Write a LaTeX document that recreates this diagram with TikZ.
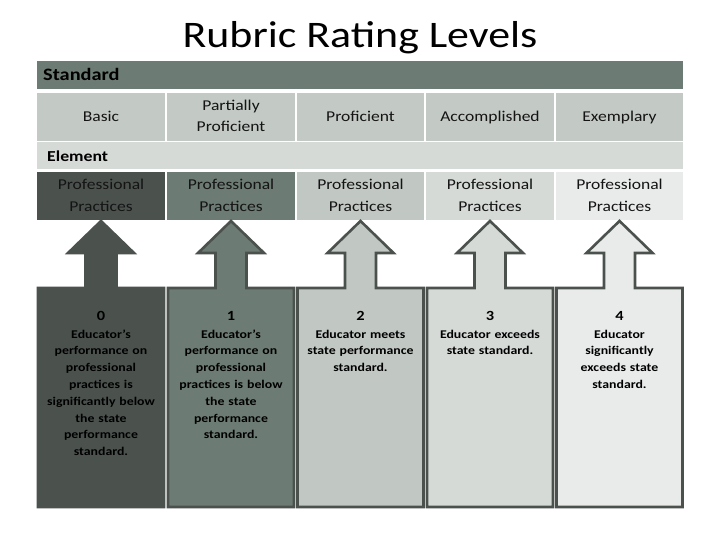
\documentclass[tikz,border=0pt]{standalone}
\usepackage{fontspec}
\setmainfont{Carlito}[FakeStretch=1.17]
\definecolor{stdbar}{RGB}{108,123,115}
\definecolor{hdrrow}{RGB}{195,201,197}
\definecolor{elrow}{RGB}{214,218,215}
\definecolor{lvA}{RGB}{75,82,78}
\definecolor{lvB}{RGB}{108,123,115}
\definecolor{lvC}{RGB}{193,199,195}
\definecolor{lvD}{RGB}{214,218,215}
\definecolor{lvE}{RGB}{233,235,234}
\definecolor{edge}{RGB}{75,82,78}
\definecolor{ink}{RGB}{20,20,20}
\newcommand{\sline}[1]{\strut #1}
\begin{document}
\begin{tikzpicture}[x=1pt,y=-1pt,
  cell/.style={inner sep=0pt, outer sep=0pt, minimum width=128pt, minimum height=48pt,
    align=center, font=\fontsize{15}{21}\selectfont, text=ink},
  pcell/.style={cell, font=\fontsize{15}{22}\selectfont},
  bar/.style={inner sep=0pt, outer sep=0pt, minimum width=646pt, anchor=center},
  lvshape/.style={draw=edge, line width=2.6pt, line join=miter},
  lvnum/.style={font=\bfseries\fontsize{14}{15}\selectfont, text=black, inner sep=0pt, anchor=base},
  lvtext/.style={font=\bfseries\fontsize{11.8}{16.8}\selectfont, text=black, align=center, text width=124pt, inner sep=0pt, anchor=base}
]
\useasboundingbox (0,0) rectangle (720,540);
\fill[white] (0,0) rectangle (720,540);

% title
\node[font=\fontsize{37.5}{40}\selectfont, text=black, anchor=base, inner sep=0pt] (title) at (360,48) {Rubric Rating Levels};

% standard bar
\node[bar, fill=stdbar, minimum height=28pt] (std) at (360,75) {};
\node[anchor=base west, font=\bfseries\fontsize{17.4}{18}\selectfont, text=black, inner sep=0pt] (stdlbl) at (43,81) {Standard};

% level names row
\node[cell, fill=hdrrow] (h0) at (101,117) {\sline{Basic}};
\node[cell, fill=hdrrow] (h1) at (231,117) {\sline{Partially}\\\sline{Proficient}};
\node[cell, fill=hdrrow, minimum width=127pt] (h2) at (360.5,117) {\sline{Proficient}};
\node[cell, fill=hdrrow] (h3) at (490,117) {\sline{Accomplished}};
\node[cell, fill=hdrrow, minimum width=127pt] (h4) at (619.5,117) {\sline{Exemplary}};

% element bar
\node[bar, fill=elrow, minimum height=27pt] (el) at (360,155.5) {};
\node[anchor=base west, font=\bfseries\fontsize{15.2}{16}\selectfont, text=black, inner sep=0pt] (ellbl) at (47,161.5) {Element};

% practices row
\node[pcell, fill=lvA] (p0) at (101,196.5) {\sline{Professional}\\\sline{Practices}};
\node[pcell, fill=lvB] (p1) at (231,196.5) {\sline{Professional}\\\sline{Practices}};
\node[pcell, fill=lvC, minimum width=127pt] (p2) at (360.5,196.5) {\sline{Professional}\\\sline{Practices}};
\node[pcell, fill=lvD] (p3) at (490,196.5) {\sline{Professional}\\\sline{Practices}};
\node[pcell, fill=lvE, minimum width=127pt] (p4) at (619.5,196.5) {\sline{Professional}\\\sline{Practices}};

% level arrows
\foreach \c/\col in {101/lvA, 231/lvB, 360.5/lvC, 490/lvD, 619.5/lvE}{
  \draw[lvshape, fill=\col]
    (\c-63,507) -- (\c-63,288) -- (\c-15.5,288) -- (\c-15.5,253) -- (\c-33,253)
    -- (\c,221) -- (\c+33,253) -- (\c+15.5,253) -- (\c+15.5,288) -- (\c+63,288)
    -- (\c+63,507) -- cycle;
}

% numbers
\node[lvnum] (n0) at (101,320) {0};
\node[lvnum] (n1) at (231,320) {1};
\node[lvnum] (n2) at (360.5,320) {2};
\node[lvnum] (n3) at (490,320) {3};
\node[lvnum] (n4) at (619.5,320) {4};

% descriptions
\node[lvtext] (d0) at (101,338) {Educator’s\\performance on\\professional\\practices is\\significantly below\\the state\\performance\\standard.};
\node[lvtext] (d1) at (231,338) {Educator’s\\performance on\\professional\\practices is below\\the state\\performance\\standard.};
\node[lvtext] (d2) at (360.5,338) {Educator meets\\state performance\\standard.};
\node[lvtext] (d3) at (490,338) {Educator exceeds\\state standard.};
\node[lvtext] (d4) at (619.5,338) {Educator\\significantly\\exceeds state\\standard.};
\end{tikzpicture}
\end{document}
